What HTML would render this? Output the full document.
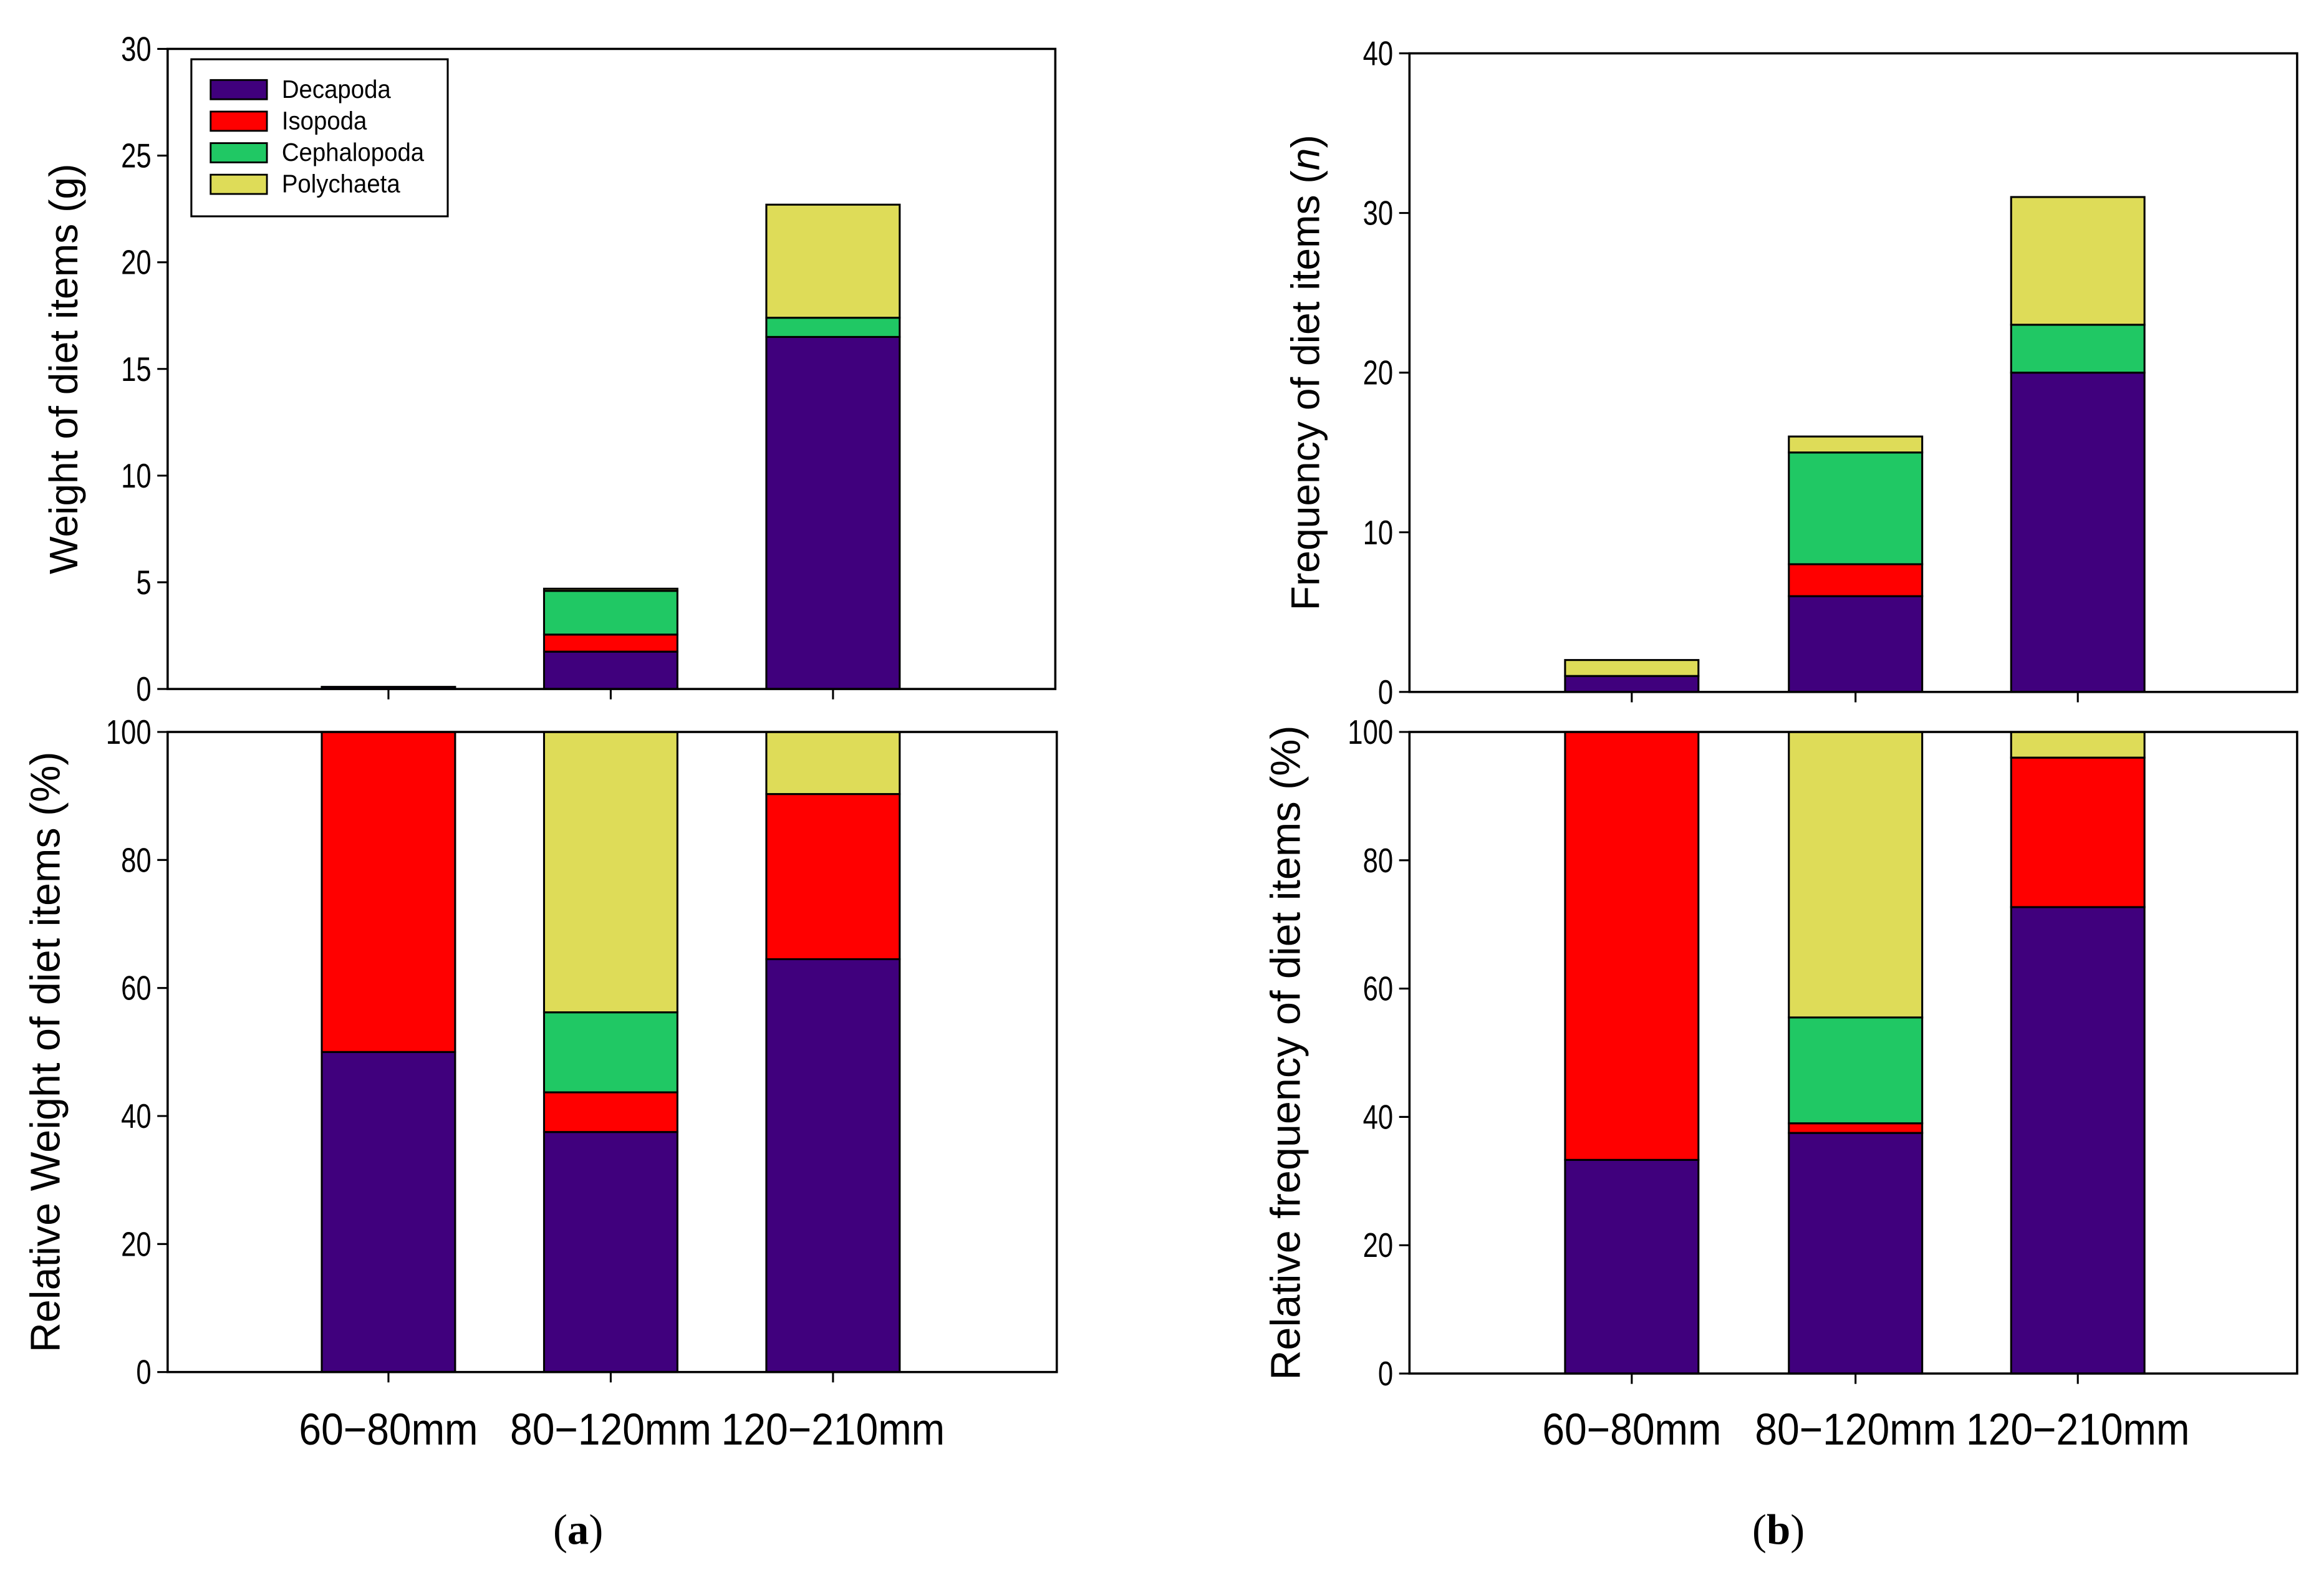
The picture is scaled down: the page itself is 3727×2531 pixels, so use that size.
<!DOCTYPE html>
<html><head><meta charset="utf-8"><style>
html,body{margin:0;padding:0;background:#fff}
svg{display:block}
text{font-family:"Liberation Sans",sans-serif}
</style></head><body>
<svg id="fig" width="3727" height="2531" viewBox="0 0 1568 1065" xmlns="http://www.w3.org/2000/svg"></svg>
<script>
const categories = ["60\u221280mm","80\u2212120mm","120\u2212210mm"];
const series = ["Decapoda","Isopoda","Cephalopoda","Polychaeta"];
const colors = ["#40007d","#ff0000","#20c864","#dedc58"];
// Panel a top: weight (g)
const wDec = [0.1, 1.75, 16.5];
const wIso = [0, 0.8, 0];
const wCep = [0, 2.05, 0.9];
const wPol = [0, 0.1, 5.3];
const wTicks = [0,5,10,15,20,25,30];
// Panel a bottom: relative weight (%)
const rwDec = [50, 37.5, 64.5];
const rwIso = [50, 6.2, 25.8];
const rwCep = [0, 12.5, 0];
const rwPol = [0, 43.8, 9.7];
const pctTicks = [0,20,40,60,80,100];
// Panel b top: frequency (n)
const fDec = [1, 6, 20];
const fIso = [0, 2, 0];
const fCep = [0, 7, 3];
const fPol = [1, 1, 8];
const fTicks = [0,10,20,30,40];
// Panel b bottom: relative frequency (%)
const rfDec = [33.3, 37.5, 72.7];
const rfIso = [66.7, 1.5, 23.3];
const rfCep = [0, 16.5, 0];
const rfPol = [0, 44.5, 4];

const NS="http://www.w3.org/2000/svg";
const svg=document.getElementById('fig');
function mk(tag,attrs,parent){const e=document.createElementNS(NS,tag);for(const k in attrs)e.setAttribute(k,attrs[k]);(parent||svg).appendChild(e);return e;}

function panel(name,box,ticks,ymax,data,centers,title,titleX,fs,italicN){
  const g=mk('g',{});
  
  
  const y=v=>box.b-(v/ymax)*(box.b-box.t);
  const bw=90;
  data[0].forEach((_,i)=>{
    let acc=0;
    data.forEach((s,k)=>{
      const v=s[i]; if(v<=0) return;
      const r=mk('rect',{x:centers[i]-bw/2,y:y(acc+v),width:bw,height:y(acc)-y(acc+v),fill:colors[k],stroke:'#000','stroke-width':1.3},g);
      
      
      acc+=v;
    });
  });
  const fr=mk('rect',{x:box.l,y:box.t,width:box.r-box.l,height:box.b-box.t,fill:'none',stroke:'#000','stroke-width':1.5},g);
  
  
  ticks.forEach(t=>{
    mk('line',{x1:box.l-7,x2:box.l,y1:y(t),y2:y(t),stroke:'#000','stroke-width':1.3},g);
    const tx=mk('text',{x:box.l-11,y:y(t)+8,'text-anchor':'end','font-size':23,transform:`translate(${box.l-11},0) scale(0.8,1) translate(${-(box.l-11)},0)`},g);
    tx.textContent=t;
    
    
  });
  centers.forEach(c=>mk('line',{x1:c,x2:c,y1:box.b,y2:box.b+7,stroke:'#000','stroke-width':1.3},g));
  const cy=(box.t+box.b)/2;
  const tt=mk('text',{x:titleX,y:cy,'text-anchor':'middle','font-size':fs,transform:`rotate(-90 ${titleX} ${cy})`},g);
  
  
  if(italicN){
    tt.appendChild(document.createTextNode(title+' ('));
    const ts=mk('tspan',{'font-style':'italic'},tt);ts.textContent='n';
    tt.appendChild(document.createTextNode(')'));
  } else tt.textContent=title;
  return g;
}
const cA=[262,412,562], cB=[1101,1252,1402];
panel('panel-a-weight',{l:113,r:712,t:33,b:465},wTicks,30,[wDec,wIso,wCep,wPol],cA,'Weight of diet items (g)',52,27,false);
panel('panel-a-relative-weight',{l:113,r:713,t:494,b:926},pctTicks,100,[rwDec,rwIso,rwCep,rwPol],cA,'Relative Weight of diet items (%)',40,28,false);
panel('panel-b-frequency',{l:951,r:1550,t:36,b:467},fTicks,40,[fDec,fIso,fCep,fPol],cB,'Frequency of diet items',890,27,true);
panel('panel-b-relative-frequency',{l:951,r:1550,t:494,b:927},pctTicks,100,[rfDec,rfIso,rfCep,rfPol],cB,'Relative frequency of diet items (%)',877,28,false);

// x labels
[[cA,'a'],[cB,'b']].forEach(([cs,p])=>{
  cs.forEach((c,i)=>{
    const t=mk('text',{x:c,y:975,'text-anchor':'middle','font-size':30,transform:`translate(${c},0) scale(0.9,1) translate(${-c},0)`});
    t.textContent=categories[i];
    
    
  });
});
[[390,'a'],[1200,'b']].forEach(([x,p])=>{
  const t=mk('text',{x:x,y:1042,'text-anchor':'middle','font-size':29,style:'font-family:"Liberation Serif",serif'});
  t.appendChild(document.createTextNode('('));
  const b=mk('tspan',{'font-weight':'bold'},t);b.textContent=p;
  t.appendChild(document.createTextNode(')'));
  
  
});

// legend
const lg=mk('g',{});


mk('rect',{x:129,y:40,width:173,height:106,fill:'#fff',stroke:'#000','stroke-width':1.3},lg);
series.forEach((s,k)=>{
  const yy=54+k*21.3;
  const sw=mk('rect',{x:142,y:yy,width:38,height:13,fill:colors[k],stroke:'#000','stroke-width':1.2},lg);
  
  
  const t=mk('text',{x:190,y:yy+12,'font-size':17,transform:`translate(190,0) scale(0.95,1) translate(-190,0)`},lg);
  t.textContent=s;
  
  
});
</script>
</body></html>
